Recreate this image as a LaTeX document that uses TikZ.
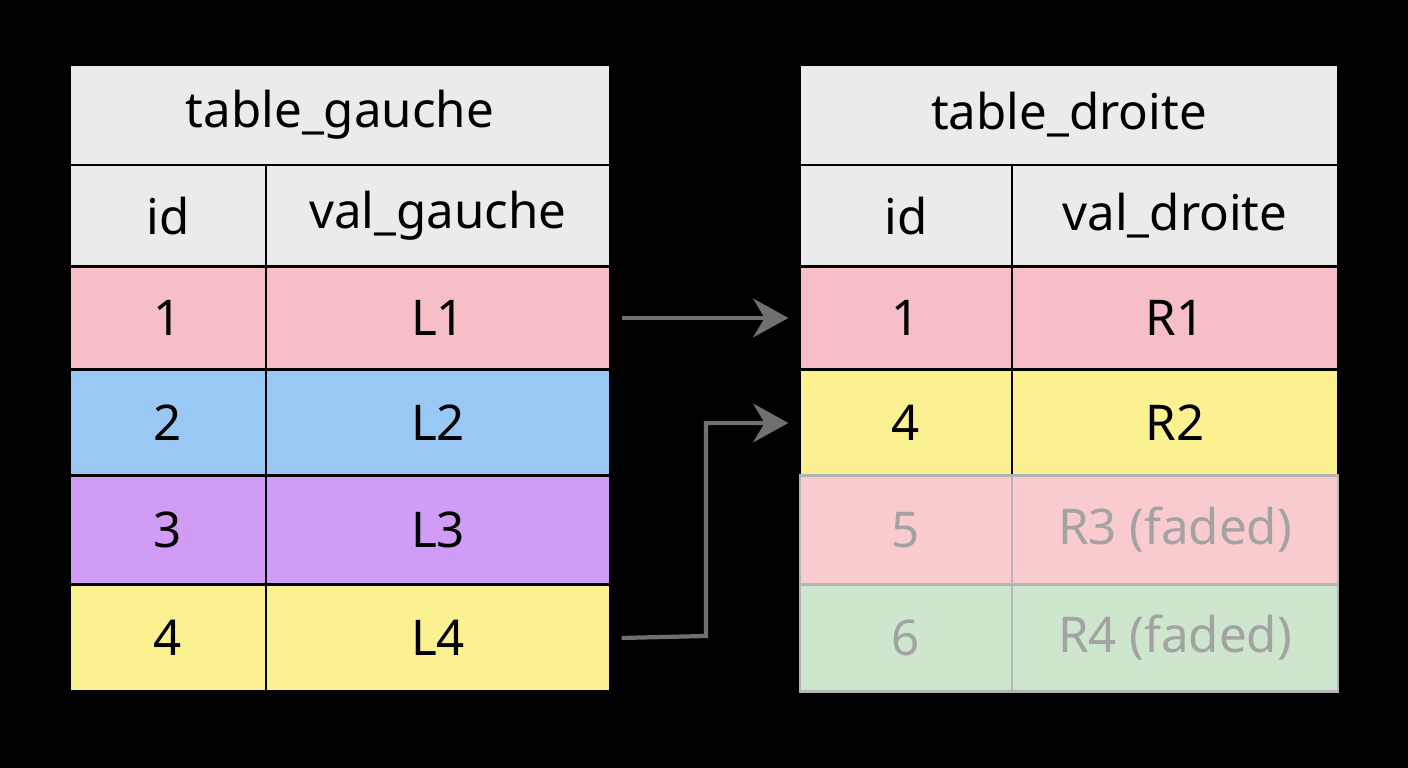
\documentclass[tikz,border=0pt]{standalone}
\usepackage{fontspec}
\setmainfont{Noto Sans}
\usetikzlibrary{arrows.meta}

\definecolor{hdgray}{HTML}{EBEBEB}
\definecolor{rowpink}{HTML}{F6BEC6}
\definecolor{rowblue}{HTML}{99C8F5}
\definecolor{rowpurple}{HTML}{D09CF5}
\definecolor{rowyellow}{HTML}{FBF191}
\definecolor{fadepink}{HTML}{F9CBCF}
\definecolor{fadegreen}{HTML}{CDE6CD}
\definecolor{fadetext}{HTML}{A3A3A3}
\definecolor{fadeline}{HTML}{B5B5B5}
\definecolor{arrowgray}{HTML}{707070}

\begin{document}
\begin{tikzpicture}[x=0.01cm,y=-0.01cm]

\tikzstyle{cell}=[rectangle,draw=black,line width=0.6pt,inner sep=0pt,font=\fontsize{14}{16}\selectfont]
\tikzstyle{head}=[cell,fill=hdgray,font=\fontsize{14}{16}\selectfont\bfseries]
\tikzstyle{faded}=[cell,draw=fadeline,text=fadetext]
\tikzstyle{link}=[draw=arrowgray,line width=1.2pt,-{Stealth[length=10pt,width=11pt]}]

\fill[black] (0,0) rectangle (1408,768);

% table_gauche
\node[head] (LT)  at (340,115) [minimum width=5.4cm,minimum height=1cm] {table\_gauche} ;
\node[head] (LH1) at (168,216) [minimum width=1.96cm,minimum height=1.02cm] {id} ;
\node[head] (LH2) at (438,216) [minimum width=3.44cm,minimum height=1.02cm] {val\_gauche} ;
\node[cell,fill=rowpink]   (LA1) at (168,318) [minimum width=1.96cm,minimum height=1.03cm] {1} ;
\node[cell,fill=rowpink]   (LB1) at (438,318) [minimum width=3.44cm,minimum height=1.03cm] {L1} ;
\node[cell,fill=rowblue]   (LA2) at (168,423) [minimum width=1.96cm,minimum height=1.06cm] {2} ;
\node[cell,fill=rowblue]   (LB2) at (438,423) [minimum width=3.44cm,minimum height=1.06cm] {L2} ;
\node[cell,fill=rowpurple] (LA3) at (168,530) [minimum width=1.96cm,minimum height=1.09cm] {3} ;
\node[cell,fill=rowpurple] (LB3) at (438,530) [minimum width=3.44cm,minimum height=1.09cm] {L3} ;
\node[cell,fill=rowyellow] (LA4) at (168,638) [minimum width=1.96cm,minimum height=1.07cm] {4} ;
\node[cell,fill=rowyellow] (LB4) at (438,638) [minimum width=3.44cm,minimum height=1.07cm] {L4} ;

% table_droite
\node[head] (RT)  at (1069,115) [minimum width=5.38cm,minimum height=1cm] {table\_droite} ;
\node[head] (RH1) at (906,216) [minimum width=2.12cm,minimum height=1.02cm] {id} ;
\node[head] (RH2) at (1175,216) [minimum width=3.26cm,minimum height=1.02cm] {val\_droite} ;
\node[cell,fill=rowpink]   (RA1) at (906,318) [minimum width=2.12cm,minimum height=1.03cm] {1} ;
\node[cell,fill=rowpink]   (RB1) at (1175,318) [minimum width=3.26cm,minimum height=1.03cm] {R1} ;
\node[cell,fill=rowyellow] (RA2) at (906,423) [minimum width=2.12cm,minimum height=1.06cm] {4} ;
\node[cell,fill=rowyellow] (RB2) at (1175,423) [minimum width=3.26cm,minimum height=1.06cm] {R2} ;
\node[faded,fill=fadepink]  (RA3) at (906,530) [minimum width=2.12cm,minimum height=1.09cm] {5} ;
\node[faded,fill=fadepink]  (RB3) at (1175,530) [minimum width=3.26cm,minimum height=1.09cm] {R3 (faded)} ;
\node[faded,fill=fadegreen] (RA4) at (906,638) [minimum width=2.12cm,minimum height=1.07cm] {6} ;
\node[faded,fill=fadegreen] (RB4) at (1175,638) [minimum width=3.26cm,minimum height=1.07cm] {R4 (faded)} ;

% matches
\coordinate (bend) at (706,636) ;
\draw[link] ([xshift=3pt]LB1.east) -- ([xshift=-3pt]RA1.west) ;
\draw[link] ([xshift=3pt]LB4.east) -- (bend) |- ([xshift=-3pt]RA2.west) ;

\end{tikzpicture}
\end{document}
